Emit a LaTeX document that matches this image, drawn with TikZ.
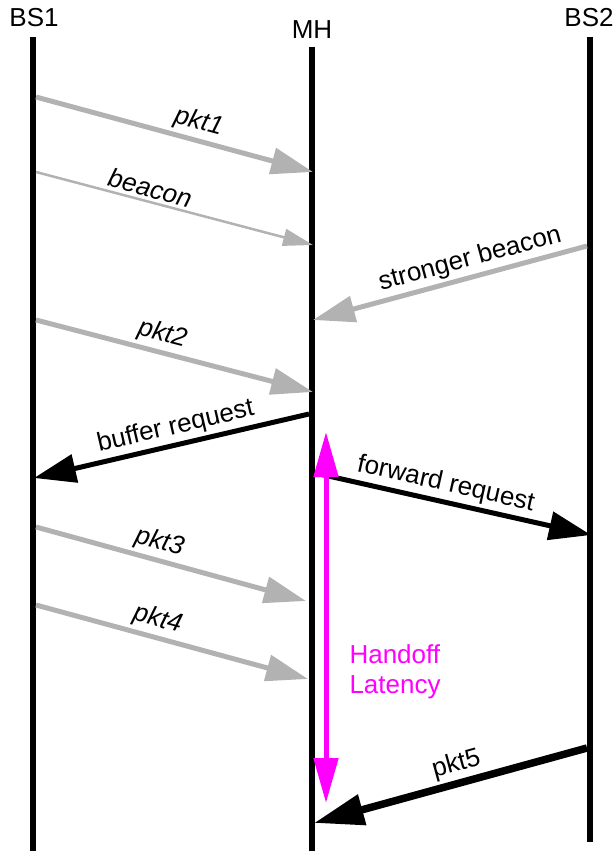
\documentclass[tikz,border=0pt]{standalone}
\usepackage{fontspec}
\setmainfont{Liberation Sans}
\usetikzlibrary{positioning, arrows.meta, calc}
\definecolor{msggray}{RGB}{178,178,178}
\definecolor{latency}{RGB}{255,0,255}

\begin{document}
\begin{tikzpicture}[x=1pt, y=-1pt, font=\fontsize{26}{30}\selectfont]
    \tikzstyle{life} = [line width=6.5pt]
    \tikzstyle{data} = [msggray, line width=5pt, -{Triangle[length=42pt, width=26pt]}]
    \tikzstyle{weak} = [msggray, line width=2.5pt, -{Triangle[length=30pt, width=17pt]}]
    \tikzstyle{ctrl} = [black, line width=5pt, -{Triangle[length=42pt, width=28pt]}]
    \tikzstyle{lbl} = [sloped, above, inner sep=3pt, text=black]

    \useasboundingbox (0,0) rectangle (614,851);

    % Lifelines
    \node (bs1) at (34,18) {BS1};
    \node (mh) at (312,30) {MH};
    \node (bs2) at (589,18) {BS2};
    \coordinate (bs1top) at (33,37);
    \coordinate (bs1bot) at (33,851);
    \coordinate (mhtop) at (312,47);
    \coordinate (mhbot) at (312,851);
    \coordinate (bs2top) at (590,37);
    \coordinate (bs2bot) at (590,842);
    \draw[life] (bs1top) -- (bs1bot);
    \draw[life] (mhtop) -- (mhbot);
    \draw[life] (bs2top) -- (bs2bot);

    % Message end points
    \coordinate (p1a) at (36,97);   \coordinate (p1b) at (313,172);
    \coordinate (b1a) at (36,172);  \coordinate (b1b) at (313,245);
    \coordinate (b2a) at (587,246); \coordinate (b2b) at (313,320);
    \coordinate (p2a) at (36,320);  \coordinate (p2b) at (313,392);
    \coordinate (bra) at (309,414); \coordinate (brb) at (34,478);
    \coordinate (fra) at (315,473); \coordinate (frb) at (591,535);
    \coordinate (p3a) at (36,527);  \coordinate (p3b) at (306,601);
    \coordinate (p4a) at (36,605);  \coordinate (p4b) at (308,679);
    \coordinate (p5a) at (587,748); \coordinate (p5b) at (314,823);

    % Messages
    \draw[data] (p1a) -- node[lbl, pos=0.57] {\itshape pkt1} (p1b);
    \draw[weak] (b1a) -- node[lbl, pos=0.40] {\itshape beacon} (b1b);
    \draw[data] (b2a) -- node[lbl, pos=0.41] {stronger beacon} (b2b);
    \draw[data] (p2a) -- node[lbl, pos=0.44] {\itshape pkt2} (p2b);
    \draw[ctrl] (bra) -- node[lbl, pos=0.47] {buffer request} (brb);
    \draw[ctrl] (fra) -- node[lbl, pos=0.46] {forward request} (frb);
    \draw[data] (p3a) -- node[lbl, pos=0.44] {\itshape pkt3} (p3b);
    \draw[data] (p4a) -- node[lbl, pos=0.43] {\itshape pkt4} (p4b);
    \draw[ctrl, line width=7.5pt, -{Triangle[length=50pt, width=30pt]}] (p5a) -- node[lbl, pos=0.46] {pkt5} (p5b);

    % Handoff latency
    \coordinate (hotop) at (326,432);
    \coordinate (hobot) at (326,803);
    \draw[latency, line width=5pt, {Triangle[length=45pt, width=24pt]}-{Triangle[length=45pt, width=24pt]}] (hotop) -- (hobot);
    \node[latency, align=left, anchor=west] (holbl) at (346,672) {Handoff\\Latency};
\end{tikzpicture}
\end{document}
